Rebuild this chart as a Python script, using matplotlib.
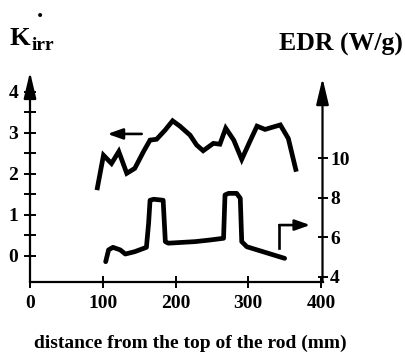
import matplotlib
matplotlib.use("Agg")
import matplotlib.pyplot as plt

# ---- data ----
x_k = [92, 101, 112, 122, 133, 144, 156, 165, 174, 186, 196, 206, 220, 229, 238,
       252, 261, 269, 280, 291, 302, 312, 323, 344, 355, 366]
k_irr = [1.60, 2.45, 2.25, 2.54, 2.01, 2.13, 2.54, 2.82, 2.84, 3.07, 3.29, 3.16,
         2.94, 2.70, 2.56, 2.74, 2.72, 3.11, 2.82, 2.35, 2.78, 3.16, 3.08, 3.19,
         2.86, 2.05]

x_edr = [104, 108, 114, 124, 131, 144, 160, 163, 165, 170, 183, 186, 190, 227,
         247, 266, 268, 273, 284, 289, 291, 298, 350]
edr = [4.76, 5.36, 5.49, 5.36, 5.15, 5.27, 5.49, 6.71, 7.88, 7.93, 7.88, 5.78,
       5.70, 5.78, 5.86, 5.95, 8.15, 8.23, 8.23, 7.98, 5.78, 5.52, 4.93]

x_ticks = [0, 100, 200, 300, 400]
left_ticks = [0, 1, 2, 3, 4]
left_minor = [0.5, 1.5, 2.5, 3.5]
right_ticks = [4, 6, 8, 10]

# indicator arrows (which axis each curve belongs to)
k_arrow_from = (153.5, 2.97)
k_arrow_to = (106.5, 2.97)
edr_arrow_path = [(342.7, 5.44), (342.7, 6.62)]
edr_arrow_tip = (385, 6.62)

xlim = (0, 402)
left_lim = (-0.64, 4.48)
right_lim = (3.73, 14.39)

serif = "Liberation Serif"
plt.rcParams["font.family"] = serif
plt.rcParams["font.weight"] = "bold"

W, H = 406, 352
fig = plt.figure(figsize=(W / 100, H / 100), dpi=100)
ax_left_px, ax_right_px, ax_bot_px, ax_top_px = 30, 322.5, 282, 72
ax = fig.add_axes([ax_left_px / W, (H - ax_bot_px) / H,
                   (ax_right_px - ax_left_px) / W, (ax_bot_px - ax_top_px) / H])
ax2 = ax.twinx()

ax.set_xlim(*xlim)
ax.set_ylim(*left_lim)
ax2.set_ylim(*right_lim)

for a in (ax, ax2):
    for s in a.spines.values():
        s.set_visible(False)
    a.patch.set_visible(False)

ax.spines["bottom"].set_visible(True)
ax.spines["bottom"].set_linewidth(1.6)

lw = 3.4
ax.plot(x_k, k_irr, color="black", lw=lw, solid_joinstyle="miter",
        solid_capstyle="butt", clip_on=False)
ax2.plot(x_edr, edr, color="black", lw=lw, solid_joinstyle="round",
         solid_capstyle="round", clip_on=False)

# axis arrows
head = "-|>,head_length=1.6,head_width=0.38"
ax.annotate("", xy=(0, 1.0), xytext=(0, 0), xycoords="axes fraction",
            arrowprops=dict(arrowstyle=head, lw=1.6, color="black",
                            mutation_scale=10, shrinkA=0, shrinkB=0))
ax.annotate("", xy=(1, 0.971), xytext=(1, 0), xycoords="axes fraction",
            arrowprops=dict(arrowstyle=head, lw=1.6, color="black",
                            mutation_scale=10, shrinkA=0, shrinkB=0))

# curve indicator arrows
small = "-|>,head_length=0.9,head_width=0.32"
ax.annotate("", xy=k_arrow_to, xytext=k_arrow_from,
            arrowprops=dict(arrowstyle=small, lw=1.9, color="black",
                            mutation_scale=10, shrinkA=0, shrinkB=0))
ax2.plot([p[0] for p in edr_arrow_path], [p[1] for p in edr_arrow_path],
         color="black", lw=1.9, solid_capstyle="projecting")
ax2.annotate("", xy=edr_arrow_tip, xytext=edr_arrow_path[-1],
             arrowprops=dict(arrowstyle=small, lw=1.9, color="black",
                             mutation_scale=10, shrinkA=0, shrinkB=0))

# ticks
ax.set_xticks(x_ticks)
ax.set_xticklabels([str(t) for t in x_ticks])
ax.set_yticks(left_ticks)
ax.set_yticks(left_minor, minor=True)
ax.set_yticklabels([str(t) for t in left_ticks])
ax2.set_yticks(right_ticks)
ax2.set_yticklabels([str(t) for t in right_ticks])

fs = 14
ax.tick_params(axis="x", direction="inout", length=9, width=1.4, pad=5,
               labelsize=fs)
ax.tick_params(axis="y", which="both", direction="inout", length=9, width=1.4,
               pad=4, labelsize=fs, left=True, right=False)
ax2.tick_params(axis="y", direction="inout", length=7, width=1.4, pad=2,
                labelsize=fs, right=True, left=False)
for lab in ax.get_xticklabels() + ax.get_yticklabels() + ax2.get_yticklabels():
    lab.set_fontweight("bold")

# titles
fig.text(10 / W, 1 - 45 / H, "K", fontsize=19, fontweight="bold",
         ha="left", va="baseline", family=serif)
fig.text(32 / W, 1 - 50 / H, "irr", fontsize=14, fontweight="bold",
         ha="left", va="baseline", family=serif)
fig.text(40 / W, 1 - 17 / H, ".", fontsize=18, fontweight="bold",
         ha="center", va="baseline", family=serif)
fig.text(403 / W, 1 - 51 / H, "EDR (W/g)", fontsize=18.5, fontweight="bold",
         ha="right", va="baseline", family=serif)
fig.text(190 / W, 1 - 348 / H, "distance from the top of the rod (mm)",
         fontsize=14, fontweight="bold", ha="center", va="baseline",
         family=serif)

fig.savefig("out.png", dpi=100)
